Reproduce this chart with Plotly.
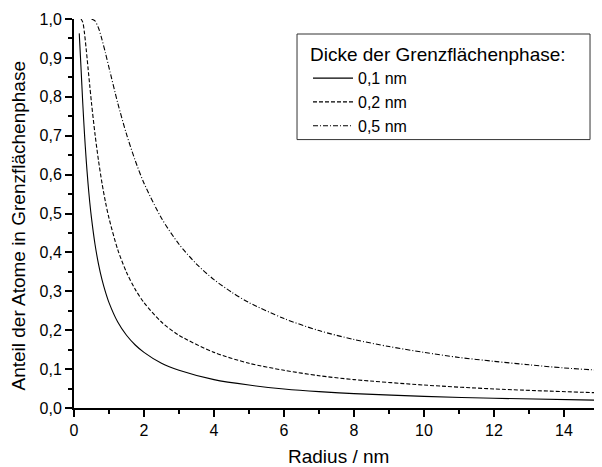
import plotly.graph_objects as go

# Readings from the reference chart (radius in nm, fraction of atoms)
r_01 = [0.15, 0.2, 0.25, 0.3, 0.35, 0.4, 0.45, 0.5, 0.6, 0.7, 0.8, 0.9, 1.0, 1.25, 1.5,
        1.75, 2.0, 2.5, 3.0, 4.0, 5.0, 6.0, 7.0, 8.0, 10.0, 12.0, 15.0]
f_01 = [0.963, 0.875, 0.784, 0.704, 0.636, 0.578, 0.529, 0.488, 0.421, 0.370, 0.330, 0.298,
        0.271, 0.221, 0.187, 0.162, 0.143, 0.115, 0.097, 0.073, 0.059, 0.049, 0.042, 0.037,
        0.030, 0.025, 0.020]

r_02 = [0.2, 0.25, 0.3, 0.35, 0.4, 0.45, 0.5, 0.6, 0.7, 0.8, 0.9, 1.0, 1.25, 1.5, 1.75,
        2.0, 2.5, 3.0, 4.0, 5.0, 6.0, 7.0, 8.0, 10.0, 12.0, 15.0]
f_02 = [1.0, 0.992, 0.963, 0.921, 0.875, 0.829, 0.784, 0.704, 0.636, 0.578, 0.529, 0.488,
        0.407, 0.349, 0.305, 0.271, 0.221, 0.187, 0.143, 0.115, 0.097, 0.083, 0.073, 0.059,
        0.049, 0.039]

r_05 = [0.5, 0.6, 0.7, 0.8, 0.9, 1.0, 1.25, 1.5, 1.75, 2.0, 2.5, 3.0, 3.5, 4.0, 4.5, 5.0,
        6.0, 7.0, 8.0, 9.0, 10.0, 11.0, 12.0, 13.0, 14.0, 15.0]
f_05 = [1.0, 0.995, 0.977, 0.947, 0.912, 0.875, 0.784, 0.704, 0.636, 0.578, 0.488, 0.421,
        0.370, 0.330, 0.298, 0.271, 0.230, 0.199, 0.176, 0.158, 0.143, 0.130, 0.120, 0.111,
        0.103, 0.097]

series = [
    ('0,1 nm', r_01, f_01, 'solid'),
    ('0,2 nm', r_02, f_02, '4px,2px'),
    ('0,5 nm', r_05, f_05, '5px,2px,1px,2px'),
]

fig = go.Figure()
for name, xs, ys, dash in series:
    fig.add_trace(go.Scatter(
        x=xs, y=ys, name=name, mode='lines',
        line=dict(color='black', width=1.1, dash=dash, shape='spline', smoothing=0.8),
    ))

font = 'Liberation Sans, Arial, sans-serif'
ax_common = dict(showgrid=False, zeroline=False, showline=True, linecolor='black',
                 linewidth=2, tickcolor='black', tickwidth=2, automargin=False)

# page body keeps its default 8px margin, so the figure is 8px smaller
fig.update_layout(
    width=594, height=459,
    margin=dict(l=66, r=3, t=11, b=59),
    paper_bgcolor='white', plot_bgcolor='white',
    font=dict(family=font, color='black', size=16),
    separators=',.',
    xaxis=dict(range=[0, 15], dtick=2, ticks='outside', ticklen=7,
               minor=dict(dtick=1, ticks='outside', ticklen=4, tickwidth=2, tickcolor='black'),
               tickfont=dict(size=16), **ax_common),
    yaxis=dict(range=[0, 1], dtick=0.1, tickformat='.1f', ticks='outside', ticklen=7,
               minor=dict(dtick=0.05, ticks='outside', ticklen=4, tickwidth=2, tickcolor='black'),
               tickfont=dict(size=16), **ax_common),
    xaxis2=dict(range=[0, 15], overlaying='x', side='top', anchor='y', dtick=2,
                ticks='inside', ticklen=6, showticklabels=False,
                minor=dict(dtick=1, ticks='inside', ticklen=3, tickwidth=2, tickcolor='black'),
                **ax_common),
    yaxis2=dict(range=[0, 1], overlaying='y', side='right', anchor='x', dtick=0.1,
                ticks='inside', ticklen=6, showticklabels=False,
                minor=dict(dtick=0.05, ticks='inside', ticklen=3, tickwidth=2, tickcolor='black'),
                **ax_common),
    legend=dict(
        x=0.4457, y=0.955, xanchor='left', yanchor='top',
        bgcolor='rgba(0,0,0,0)', borderwidth=0,
        font=dict(size=16),
        title=dict(text='Dicke der Grenzflächenphase:', font=dict(size=19)),
        tracegroupgap=0, itemwidth=40,
    ),
    showlegend=True,
    shapes=[dict(type='rect', xref='paper', yref='paper',
                 x0=0.4248, x1=0.9829, y0=0.69, y1=0.9614,
                 line=dict(color='#333', width=1), fillcolor='rgba(0,0,0,0)', layer='below')],
    annotations=[
        dict(text='Radius / nm', xref='paper', yref='paper', x=0.503, y=-0.125,
             xanchor='center', yanchor='middle', showarrow=False, font=dict(size=19)),
        dict(text='Anteil der Atome in Grenzflächenphase', xref='paper', yref='paper',
             x=-0.1048, y=0.469, xanchor='center', yanchor='middle', textangle=-90,
             showarrow=False, font=dict(size=19)),
    ],
)

fig.write_html('out.html')
